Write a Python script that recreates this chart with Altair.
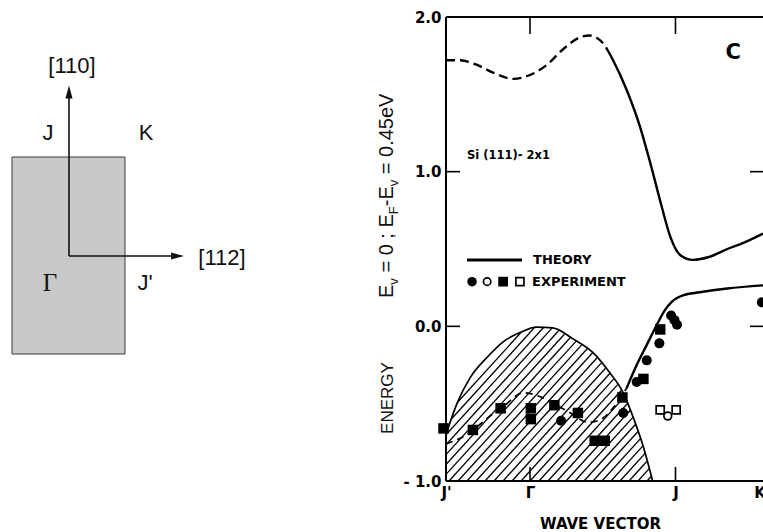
import json
import numpy as np
import pandas as pd
import altair as alt

# ---------------- data ----------------
# wave vector in units of |Gamma-J'| (J'=0, Gamma=1, J=1+sqrt3, K=2+sqrt3); energy in eV
tick_pos = [0.0, 1.0, 2.732, 3.732]
tick_lab = ["J'", "Γ", "J", "K"]
y_tick_val = [2.0, 1.0, 0.0, -1.0]
y_tick_lab = ["2.0", "1.0", "0.0", "- 1.0"]
inner_tick_x = [1.0, 2.732]
inner_tick_y = [1.0, 0.0]

# upper (empty) surface band
cb_dash_x = [0.0, 0.17, 0.37, 0.56, 0.80, 1.00, 1.20, 1.39, 1.60, 1.71, 1.87, 1.93]
cb_dash_v = [1.72, 1.72, 1.69, 1.64, 1.60, 1.625, 1.69, 1.79, 1.87, 1.88, 1.83, 1.78]
cb_solid_x = [1.93, 1.98, 2.15, 2.31, 2.43, 2.57, 2.67, 2.79, 2.94, 3.14, 3.35, 3.54, 3.774]
cb_solid_v = [1.78, 1.73, 1.53, 1.29, 1.06, 0.77, 0.58, 0.46, 0.43, 0.45, 0.50, 0.54, 0.60]

# lower (filled) surface band
ss_dash_x = [0.0, 0.18, 0.30, 0.50, 0.68, 0.92, 1.10, 1.25, 1.45, 1.70, 1.85, 2.00, 2.15]
ss_dash_v = [-0.76, -0.72, -0.68, -0.59, -0.52, -0.43, -0.45, -0.49, -0.55, -0.62, -0.60, -0.52, -0.40]
ss_solid_x = [2.15, 2.27, 2.39, 2.51, 2.60, 2.69, 2.82, 3.02, 3.35, 3.774]
ss_solid_v = [-0.40, -0.25, -0.12, 0.01, 0.10, 0.16, 0.20, 0.22, 0.245, 0.265]

# edge of the projected bulk bands (hatched)
bb_x = [0.0, 0.13, 0.29, 0.49, 0.68, 0.88, 1.08, 1.27, 1.51, 1.75, 1.95, 2.11, 2.23, 2.35, 2.46]
bb_v = [-0.70, -0.50, -0.33, -0.20, -0.10, -0.04, -0.005, -0.01, -0.08, -0.17, -0.30, -0.43, -0.59, -0.78, -1.0]

# experiment
sq_fill_x = [-0.03, 0.32, 0.65, 1.01, 1.01, 1.29, 1.57, 1.77, 1.89, 2.10, 2.35, 2.55]
sq_fill_v = [-0.66, -0.67, -0.53, -0.53, -0.60, -0.51, -0.56, -0.74, -0.74, -0.46, -0.34, -0.02]
ci_fill_x = [1.37, 2.11, 2.27, 2.39, 2.54, 2.68, 2.72, 2.75, 3.76]
ci_fill_v = [-0.61, -0.56, -0.36, -0.22, -0.11, 0.07, 0.04, 0.01, 0.155]
sq_open_x = [2.55, 2.74]
sq_open_v = [-0.54, -0.54]
ci_open_x = [2.64]
ci_open_v = [-0.58]

# ---------------- layout ----------------
PAD_L, PAD_T = 446, 17
W, H = 317, 464
PAD_R, PAD_B = 763 - PAD_L - W, 532 - PAD_T - H
X_MAX = W / 84.0
Y_MIN, Y_MAX = -1.0, 2.0
PX_X = W / X_MAX
PX_Y = H / (Y_MAX - Y_MIN)

xs = alt.Scale(domain=[0, X_MAX], nice=False, zero=False)
ys = alt.Scale(domain=[Y_MIN, Y_MAX], nice=False, zero=False)
# page-pixel scale for the schematic on the left and the y title
pxs = alt.Scale(domain=[PAD_L, PAD_L + W], nice=False, zero=False)
pys = alt.Scale(domain=[PAD_T, PAD_T + H], nice=False, zero=False, reverse=True)

SCAN = "DejaVu Sans"
SANS = "Liberation Sans"
SERIF = "Liberation Serif"


def ternary(vals, labs):
    expr = json.dumps(labs[-1], ensure_ascii=False)
    for v, l in reversed(list(zip(vals[:-1], labs[:-1]))):
        expr = f"abs(datum.value - ({v})) < 0.01 ? {json.dumps(l, ensure_ascii=False)} : ({expr})"
    return expr


x_axis = alt.Axis(values=tick_pos, labelExpr=ternary(tick_pos, tick_lab), title="WAVE VECTOR",
                  domain=False, ticks=False, grid=False, labelFont=SCAN, labelFontWeight="bold",
                  labelFontSize=15, labelColor="black", labelPadding=4, labelFlush=False,
                  labelOverlap=False, titleFont=SCAN, titleFontWeight="bold", titleFontSize=15,
                  titleColor="black", titleX=154, titleY=47, titleBaseline="alphabetic")
y_axis = alt.Axis(values=y_tick_val, labelExpr=ternary(y_tick_val, y_tick_lab), title=None,
                  domain=False, ticks=False, grid=False, labelFont=SCAN, labelFontWeight="bold",
                  labelFontSize=15, labelColor="black", labelPadding=5, labelFlush=False,
                  labelOverlap=False)


def X(f="x"):
    return alt.X(f"{f}:Q", scale=xs, axis=x_axis)


def Y(f="y"):
    return alt.Y(f"{f}:Q", scale=ys, axis=y_axis)


# frame (left, top, bottom)
frame_df = pd.DataFrame({"x": [0, 0, 0], "x2": [0, X_MAX, X_MAX],
                         "y": [Y_MIN, Y_MAX, Y_MIN], "y2": [Y_MAX, Y_MAX, Y_MIN]})
frame = alt.Chart(frame_df).mark_rule(color="black", strokeWidth=2).encode(
    x=X(), x2="x2:Q", y=Y(), y2="y2:Q")

bt_df = pd.DataFrame({"x": inner_tick_x, "y": [Y_MIN] * 2, "y2": [Y_MIN] * 2})
tt_df = pd.DataFrame({"x": inner_tick_x, "y": [Y_MAX] * 2, "y2": [Y_MAX] * 2})
lt_df = pd.DataFrame({"y": inner_tick_y, "x": [0.0] * 2, "x2": [0.0] * 2})
rt_df = pd.DataFrame({"y": inner_tick_y, "x": [X_MAX] * 2, "x2": [X_MAX] * 2})
ticks = [
    alt.Chart(bt_df).mark_rule(color="black", strokeWidth=1.6, y2Offset=-14).encode(x=X(), y=Y(), y2="y2:Q"),
    alt.Chart(tt_df).mark_rule(color="black", strokeWidth=1.6, y2Offset=17).encode(x=X(), y=Y(), y2="y2:Q"),
    alt.Chart(lt_df).mark_rule(color="black", strokeWidth=1.6, x2Offset=14).encode(y=Y(), x=X(), x2="x2:Q"),
    alt.Chart(rt_df).mark_rule(color="black", strokeWidth=1.6, x2Offset=-13).encode(y=Y(), x=X(), x2="x2:Q"),
]


# hatch lines clipped to the projected-band region
def hatch(bx, bv, spacing=9.0, slope=1.1):
    x_end = bx[-1]
    t = np.linspace(0.0, 500.0, 5001)
    segs = []
    for s0 in np.arange(-60.0, x_end * PX_X + 1.0, spacing):
        px = s0 + t
        x = px / PX_X
        v = Y_MIN + t * slope / PX_Y
        ins = (x >= 0) & (x <= x_end) & (v <= np.interp(x, bx, bv))
        idx = np.nonzero(ins)[0]
        if len(idx) < 3:
            continue
        i0 = idx[0]
        i1 = i0
        while i1 + 1 < len(ins) and ins[i1 + 1]:
            i1 += 1
        segs.append({"x": x[i0], "y": v[i0], "x2": x[i1], "y2": v[i1]})
    return pd.DataFrame(segs)


hatch_df = hatch(bb_x, bb_v)
hatch_layer = alt.Chart(hatch_df).mark_rule(color="black", strokeWidth=1.3).encode(
    x=X(), y=Y(), x2="x2:Q", y2="y2:Q")

bb_df = pd.DataFrame({"x": bb_x, "y": bb_v})
bb_line = alt.Chart(bb_df).mark_line(color="black", strokeWidth=1.7, interpolate="monotone").encode(x=X(), y=Y())


def curve(xv, yv, **kw):
    return alt.Chart(pd.DataFrame({"x": xv, "y": yv})).mark_line(
        color="black", interpolate="monotone", **kw).encode(x=X(), y=Y())


curves = [
    curve(cb_dash_x, cb_dash_v, strokeWidth=2.4, strokeDash=[9, 5]),
    curve(cb_solid_x, cb_solid_v, strokeWidth=2.4),
    curve(ss_dash_x, ss_dash_v, strokeWidth=1.7, strokeDash=[7, 5]),
    curve(ss_solid_x, ss_solid_v, strokeWidth=2.4),
]


def pts(xv, yv, shape, size, fill, sw=0):
    return alt.Chart(pd.DataFrame({"x": xv, "y": yv})).mark_point(
        shape=shape, size=size, fill=fill, stroke="black", strokeWidth=sw, opacity=1,
        fillOpacity=1).encode(x=X(), y=Y())


points = [
    pts(sq_fill_x, sq_fill_v, "square", 110, "black"),
    pts(ci_fill_x, ci_fill_v, "circle", 100, "black"),
    pts(sq_open_x, sq_open_v, "square", 65, "white", 1.7),
    pts(ci_open_x, ci_open_v, "circle", 60, "white", 1.7),
]

# legend & annotations (in data coordinates of the panel)
leg_line = alt.Chart(pd.DataFrame({"x": [0.25], "x2": [0.905], "y": [0.429]})).mark_rule(
    color="black", strokeWidth=2.8).encode(x=X(), x2="x2:Q", y=Y())
leg_syms = [
    pts([0.31], [0.289], "circle", 90, "black"),
    pts([0.49], [0.289], "circle", 55, "white", 1.7),
    pts([0.68], [0.289], "square", 95, "black"),
    pts([0.88], [0.289], "square", 65, "white", 1.7),
]


def label(xv, yv, text, size, align="left", font=SCAN, weight="bold"):
    return alt.Chart(pd.DataFrame({"x": [xv], "y": [yv], "t": [text]})).mark_text(
        align=align, baseline="middle", font=font, fontWeight=weight, fontSize=size,
        color="black").encode(x=X(), y=Y(), text="t:N")


texts = [
    label(1.036, 0.429, "THEORY", 13),
    label(1.024, 0.289, "EXPERIMENT", 13),
    label(0.25, 1.10, "Si (111)- 2x1", 11.5),
    label(3.42, 1.77, "C", 21, align="center"),
]

main = alt.layer(frame, hatch_layer, bb_line, *curves, *points, *ticks, leg_line, *leg_syms, *texts)

# ---------------- schematic of the surface Brillouin zone (page pixels) ----------------
rect_df = pd.DataFrame({"x": [12], "x2": [125], "y": [157], "y2": [354]})
arrow_df = pd.DataFrame({"x": [69, 69], "y": [256, 256], "x2": [69, 176], "y2": [95, 256]})
zone_lab = pd.DataFrame({"x": [72, 48, 146, 145, 222], "y": [66, 133, 133, 283, 258],
                         "t": ["[110]", "J", "K", "J'", "[112]"]})


def PX(f="x"):
    return alt.X(f"{f}:Q", scale=pxs, axis=None)


def PY(f="y"):
    return alt.Y(f"{f}:Q", scale=pys, axis=None)


zone = alt.Chart(rect_df).mark_rect(fill="#c8c8c8", stroke="#3a3a3a", strokeWidth=1).encode(
    x=PX(), x2="x2:Q", y=PY(), y2="y2:Q")
arrows = alt.Chart(arrow_df).mark_rule(color="#111111", strokeWidth=1.6).encode(
    x=PX(), x2="x2:Q", y=PY(), y2="y2:Q")
head_up = alt.Chart(pd.DataFrame({"x": [69], "y": [92]})).mark_point(
    shape="M0,-1L0.55,1L-0.55,1Z", size=169, filled=True, color="#111111", opacity=1).encode(x=PX(), y=PY())
head_rt = alt.Chart(pd.DataFrame({"x": [177.5], "y": [256]})).mark_point(
    shape="M1,0L-1,-0.55L-1,0.55Z", size=169, filled=True, color="#111111", opacity=1).encode(x=PX(), y=PY())
zl = alt.Chart(zone_lab).mark_text(font=SANS, fontSize=22, color="#111111", baseline="middle",
                                  align="center").encode(x=PX(), y=PY(), text="t:N")
gamma = alt.Chart(pd.DataFrame({"x": [50], "y": [283], "t": ["Γ"]})).mark_text(
    font=SERIF, fontSize=25, color="#111111", baseline="middle", align="center").encode(
    x=PX(), y=PY(), text="t:N")

# ---------------- rotated y-axis title ----------------
EM = {" ": 0.278, "=": 0.584, "0": 0.556, ";": 0.278, "E": 0.667, "F": 0.611, "-": 0.333,
      ".": 0.278, "4": 0.556, "5": 0.556, "e": 0.556, "V": 0.667, "v": 0.5}
F_MAIN, F_SUB = 20, 13
pieces = [("E", 0), ("v", 1), (" = 0 ; E", 0), ("F", 1), ("-E", 0), ("v", 1), (" = 0.45eV", 0)]
T_X, T_Y0 = 393, 298
main_rows, sub_rows = [], []
pos = T_Y0
for txt, sub in pieces:
    fs = F_SUB if sub else F_MAIN
    lead = len(txt) - len(txt.lstrip(" "))
    start = pos - lead * EM[" "] * fs
    (sub_rows if sub else main_rows).append({"x": T_X, "y": start, "t": txt.strip()})
    pos -= sum(EM[c] for c in txt) * fs

title_main = alt.Chart(pd.DataFrame(main_rows)).mark_text(
    font=SANS, fontSize=F_MAIN, angle=270, align="left", baseline="alphabetic", color="#111111").encode(
    x=PX(), y=PY(), text="t:N")
title_sub = alt.Chart(pd.DataFrame(sub_rows)).mark_text(
    font=SANS, fontSize=F_SUB, angle=270, align="left", baseline="alphabetic", dy=5, color="#111111").encode(
    x=PX(), y=PY(), text="t:N")
energy = alt.Chart(pd.DataFrame({"x": [T_X], "y": [398], "t": ["ENERGY"]})).mark_text(
    font=SANS, fontSize=17, angle=270, align="center", baseline="alphabetic", color="#111111").encode(
    x=PX(), y=PY(), text="t:N")

page = alt.layer(zone, arrows, head_up, head_rt, zl, gamma, title_main, title_sub, energy)

chart = alt.layer(main, page).resolve_scale(x="independent", y="independent").properties(
    width=W, height=H,
    autosize=alt.AutoSizeParams(type="none"),
    padding={"left": PAD_L, "top": PAD_T, "right": PAD_R, "bottom": PAD_B},
    background="white",
).configure_view(stroke=None)

chart.save("out.html", embed_options={"renderer": "svg", "actions": False})
